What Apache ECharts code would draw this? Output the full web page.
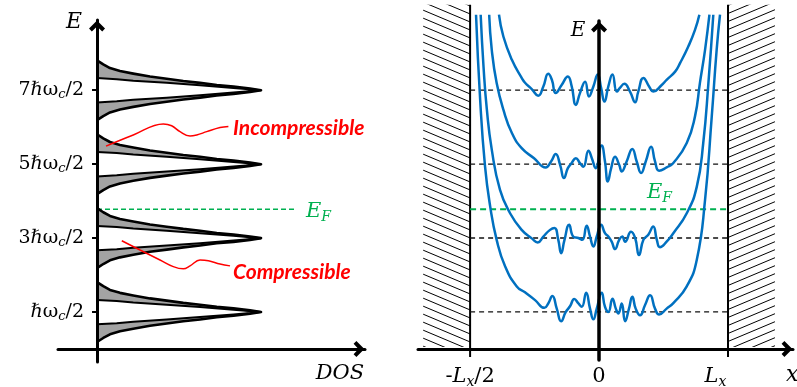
<!DOCTYPE html>
<html><head><meta charset="utf-8">
<script src="https://cdn.jsdelivr.net/npm/echarts@6/dist/echarts.min.js"></script>
<style>html,body{margin:0;padding:0;background:#fff}#c{width:797px;height:387px}</style>
</head><body><div id="c"></div>
<script>
// ---------- data (energies in units of ħω_c/2, x in units of L_x, DOS normalised to peak) ----------
const energyLevels = [1, 3, 5, 7];
const energyTickLabels = ['ℏω_c/2', '3ℏω_c/2', '5ℏω_c/2', '7ℏω_c/2'];
const fermiEnergy = 3.78;

// DOS peak profile (outer and inner boundary, half-width vs DOS)
const peakOuterDos = [0, 0.038, 0.079, 0.140, 0.221, 0.323, 0.425, 0.526, 0.628, 0.730, 0.832, 0.933, 1.0];
const peakOuterHalfWidth = [0.81, 0.70, 0.60, 0.52, 0.45, 0.37, 0.31, 0.25, 0.20, 0.14, 0.10, 0.046, 0];
const peakInnerDos = [0, 0.120, 0.221, 0.425, 0.628, 0.832, 1.0];
const peakInnerHalfWidth = [0.33, 0.30, 0.26, 0.20, 0.135, 0.062, 0];
const leftFermiLineEnd = 1.207;

const incompressibleLeader = [[0.055,5.49],[0.221,5.79],[0.404,6.09],[0.455,6.04],[0.506,5.88],[0.567,5.76],[0.608,5.79],[0.669,5.88],[0.750,5.99],[0.801,6.02]];
const compressibleLeader = [[0.151,2.93],[0.262,2.68],[0.384,2.41],[0.465,2.23],[0.526,2.17],[0.567,2.25],[0.628,2.41],[0.679,2.39],[0.750,2.30],[0.811,2.25]];

// right panel: Landau-level energy vs position
const xTickValues = [-0.5, 0, 0.5];
const xTickLabels = ['-L_x/2', '0', 'L_x'];
const wallX = [-0.5, 0.5];

const band1 = [[-0.477,9.04],[-0.461,6.74],[-0.442,4.93],[-0.422,3.85],[-0.397,2.95],[-0.364,2.23],[-0.319,1.69],[-0.287,1.53],[-0.248,1.32],[-0.212,1.11],[-0.197,1.23],[-0.181,1.43],[-0.164,1.09],[-0.147,0.75],[-0.129,1.00],[-0.112,1.16],[-0.096,1.35],[-0.080,1.23],[-0.067,1.14],[-0.050,1.52],[-0.035,1.09],[-0.022,0.80],[-0.009,1.09],[0.010,1.52],[0.023,1.14],[0.036,1.00],[0.052,1.36],[0.065,1.09],[0.075,0.96],[0.088,1.23],[0.101,0.75],[0.116,1.09],[0.129,1.41],[0.142,1.09],[0.159,0.91],[0.178,1.18],[0.198,1.45],[0.217,1.09],[0.233,0.93],[0.262,1.09],[0.288,1.24],[0.340,1.69],[0.379,2.41],[0.411,4.03],[0.437,6.29],[0.456,8.09],[0.469,9.04]];
const band3 = [[-0.459,9.04],[-0.448,7.64],[-0.435,6.47],[-0.416,5.39],[-0.384,4.30],[-0.345,3.67],[-0.300,3.22],[-0.261,2.99],[-0.238,2.88],[-0.216,3.04],[-0.190,3.22],[-0.173,3.27],[-0.158,2.95],[-0.147,2.59],[-0.134,2.95],[-0.116,3.36],[-0.100,3.04],[-0.080,3.00],[-0.065,2.95],[-0.048,3.33],[-0.035,3.04],[-0.022,2.77],[-0.009,3.04],[0.008,3.36],[0.023,3.13],[0.036,3.04],[0.049,2.90],[0.062,2.70],[0.078,2.95],[0.090,3.04],[0.101,2.90],[0.124,3.17],[0.140,3.00],[0.155,2.54],[0.172,2.95],[0.191,3.09],[0.210,3.31],[0.224,2.95],[0.236,2.75],[0.262,2.90],[0.288,3.13],[0.340,3.67],[0.379,4.39],[0.404,5.57],[0.424,7.19],[0.443,9.04]];
const band5 = [[-0.426,9.04],[-0.416,8.09],[-0.397,7.19],[-0.371,6.47],[-0.338,5.84],[-0.300,5.43],[-0.252,5.16],[-0.207,4.91],[-0.186,5.07],[-0.168,5.27],[-0.151,4.98],[-0.136,4.62],[-0.121,4.89],[-0.106,5.03],[-0.090,5.16],[-0.074,5.03],[-0.061,4.93],[-0.041,5.36],[-0.028,5.16],[-0.013,4.89],[0.010,5.50],[0.023,5.07],[0.034,4.53],[0.047,4.89],[0.062,5.20],[0.078,4.98],[0.088,4.80],[0.107,5.07],[0.129,5.41],[0.146,5.07],[0.163,4.76],[0.181,5.07],[0.202,5.47],[0.217,5.07],[0.233,4.82],[0.262,4.91],[0.288,5.03],[0.340,5.57],[0.372,6.29],[0.391,7.19],[0.411,8.09],[0.428,9.04]];
const band7 = [[-0.388,9.04],[-0.371,8.45],[-0.338,7.82],[-0.300,7.33],[-0.287,7.20],[-0.261,7.03],[-0.236,6.85],[-0.216,7.10],[-0.197,7.44],[-0.183,7.28],[-0.168,6.92],[-0.145,7.14],[-0.121,7.37],[-0.106,7.10],[-0.090,6.60],[-0.074,6.92],[-0.054,7.23],[-0.039,6.83],[-0.022,7.10],[-0.005,7.42],[0.008,7.06],[0.021,6.69],[0.036,7.10],[0.052,7.42],[0.069,6.96],[0.081,7.06],[0.098,7.17],[0.120,6.96],[0.140,6.67],[0.152,6.96],[0.172,7.33],[0.194,7.10],[0.210,6.96],[0.243,7.14],[0.262,7.28],[0.295,7.50],[0.314,7.73],[0.346,8.18],[0.372,8.63],[0.389,9.04]];
const bands = [band1, band3, band5, band7];

// ---------- styling / layout ----------
const SERIF = '"DejaVu Serif"';
const BLUE = '#0070C0', GREEN = '#00B050', RED = '#FF0000';
const ARROW = 'path://M10,0 L20,10 L16.5,13.5 L10,7.5 L3.5,13.5 L0,10 Z';
const wallTop = 9.31, wallBottom = -0.22, hatchTop = 9.31, hatchBottom = 0.05, hatchWidth = 0.182;

function mathRich(s) {
  let out = '';
  for (let i = 0; i < s.length; i++) {
    const ch = s[i];
    if (ch === '_') { out += '{sub|' + s[i + 1] + '}'; i++; }
    else if (/[A-Za-z]/.test(ch)) out += '{it|' + ch + '}';
    else out += '{rm|' + ch + '}';
  }
  return out;
}
function richSet(size, subSize, color, lh) {
  return {
    rm: { fontFamily: SERIF, fontSize: size, color: color, fill: color, lineHeight: lh },
    it: { fontFamily: SERIF, fontSize: size, fontStyle: 'italic', color: color, fill: color, lineHeight: lh },
    sub: { fontFamily: SERIF, fontSize: subSize, fontStyle: 'italic', color: color, fill: color, padding: [Math.round(subSize * 0.7), 0, 0, 0] },
    pad: { width: 25, fontSize: size, lineHeight: lh }
  };
}
function hatchPattern(dir) {
  const c = document.createElement('canvas');
  c.width = 38; c.height = 8;
  const g = c.getContext('2d');
  g.strokeStyle = '#000'; g.lineWidth = 1;
  for (let k = -3; k <= 3; k++) {
    g.beginPath();
    if (dir > 0) { g.moveTo(0, 8 * k); g.lineTo(38, 8 * k + 16); }
    else { g.moveTo(0, 8 * k + 16); g.lineTo(38, 8 * k); }
    g.stroke();
  }
  return { image: c, repeat: 'repeat' };
}
const hatchFills = [hatchPattern(1), hatchPattern(-1)];

const axisLineStyle = (w) => ({
  onZero: true, lineStyle: { color: '#000', width: w },
  symbol: ['none', ARROW], symbolSize: [16, 12], symbolOffset: [0, -6]
});

const chart = echarts.init(document.getElementById('c'), null, { renderer: 'canvas' });

const series = [];
// hatched walls
series.push({
  type: 'custom', xAxisIndex: 1, yAxisIndex: 1, clip: false, silent: true, z: 1,
  data: wallX.map((w, i) => [i === 0 ? w - hatchWidth : w, i === 0 ? w : w + hatchWidth]),
  renderItem: (params, api) => {
    const p0 = api.coord([api.value(0), hatchTop]);
    const p1 = api.coord([api.value(1), hatchBottom]);
    return { type: 'rect', shape: { x: p0[0], y: p0[1], width: p1[0] - p0[0], height: p1[1] - p0[1] },
      style: { fill: hatchFills[params.dataIndex], stroke: null } };
  }
});
wallX.forEach(w => series.push({
  type: 'line', xAxisIndex: 1, yAxisIndex: 1, clip: false, silent: true, symbol: 'none', z: 2,
  data: [[w, wallTop], [w, wallBottom]], lineStyle: { color: '#000', width: 2 }
}));
energyLevels.forEach(e => series.push({
  type: 'line', xAxisIndex: 1, yAxisIndex: 1, symbol: 'none', silent: true, z: 2,
  data: [[wallX[0], e], [wallX[1], e]], lineStyle: { color: '#111', width: 1.3, type: [5, 4] }
}));
series.push({
  type: 'line', xAxisIndex: 1, yAxisIndex: 1, symbol: 'none', silent: true, z: 2,
  data: [[wallX[0], fermiEnergy], [wallX[1], fermiEnergy]], lineStyle: { color: GREEN, width: 2, type: [6, 4] }
});
bands.forEach(b => series.push({
  type: 'line', xAxisIndex: 1, yAxisIndex: 1, symbol: 'none', silent: true, clip: false, z: 3,
  smooth: 0.5, data: b, lineStyle: { color: BLUE, width: 2.5 }
}));
// DOS peaks
series.push({
  type: 'custom', xAxisIndex: 0, yAxisIndex: 0, clip: false, silent: true, z: 3,
  data: energyLevels.map(e => [0, e]),
  renderItem: (params, api) => {
    const L = api.value(1);
    const oT = peakOuterDos.map((d, i) => api.coord([d, L + peakOuterHalfWidth[i]]));
    const oB = peakOuterDos.map((d, i) => api.coord([d, L - peakOuterHalfWidth[i]]));
    const iT = peakInnerDos.map((d, i) => api.coord([d, L + peakInnerHalfWidth[i]]));
    const iB = peakInnerDos.map((d, i) => api.coord([d, L - peakInnerHalfWidth[i]]));
    return { type: 'group', children: [
      { type: 'polygon', shape: { points: oT.concat(iT.slice().reverse()) }, style: { fill: '#a3a3a3', stroke: null } },
      { type: 'polygon', shape: { points: oB.concat(iB.slice().reverse()) }, style: { fill: '#a3a3a3', stroke: null } },
      { type: 'polyline', shape: { points: iT.concat(iB.slice(0, -1).reverse()) }, style: { stroke: '#000', lineWidth: 2, fill: null } },
      { type: 'polyline', shape: { points: oT.concat(oB.slice(0, -1).reverse()) }, style: { stroke: '#000', lineWidth: 2.6, fill: null, lineJoin: 'round' } }
    ] };
  }
});
series.push({
  type: 'line', xAxisIndex: 0, yAxisIndex: 0, symbol: 'none', silent: true, z: 2,
  data: [[0, fermiEnergy], [leftFermiLineEnd, fermiEnergy]], lineStyle: { color: GREEN, width: 1.6, type: [5, 3] }
});
[incompressibleLeader, compressibleLeader].forEach(d => series.push({
  type: 'line', xAxisIndex: 0, yAxisIndex: 0, symbol: 'none', silent: true, z: 4,
  smooth: 0.4, data: d, lineStyle: { color: RED, width: 1.5 }
}));

const yRich = richSet(19, 13, '#000', 24);
const xRich = richSet(21, 14, '#000', 26);

chart.setOption({
  animation: false,
  grid: [
    { left: 58, top: 20, width: 307, height: 342, outerBoundsMode: 'none', containLabel: false },
    { left: 418, top: 21, width: 375, height: 339, outerBoundsMode: 'none', containLabel: false }
  ],
  xAxis: [
    { gridIndex: 0, type: 'value', min: -0.238, max: 1.634, axisLine: axisLineStyle(3),
      axisTick: { show: false }, axisLabel: { show: false }, splitLine: { show: false }, z: 5 },
    { gridIndex: 1, type: 'value', min: -0.702, max: 0.752, axisLine: axisLineStyle(3),
      axisTick: { show: false }, splitLine: { show: false }, z: 5,
      axisLabel: { customValues: xTickValues, margin: 4, rich: xRich,
        formatter: v => { const i = xTickValues.indexOf(v); const s = mathRich(xTickLabels[i]); return i === 2 ? s + '{pad| }' : s; } } }
  ],
  yAxis: [
    { gridIndex: 0, type: 'value', min: -0.35, max: 8.9, axisLine: axisLineStyle(3), splitLine: { show: false }, z: 5,
      axisTick: { customValues: energyLevels, length: 5, lineStyle: { color: '#000', width: 2 } },
      axisLabel: { customValues: energyLevels, margin: -26, rich: yRich,
        formatter: v => mathRich(energyTickLabels[energyLevels.indexOf(v)]) } },
    { gridIndex: 1, type: 'value', min: -0.3, max: 8.87, axisLine: axisLineStyle(3.5), splitLine: { show: false }, z: 5,
      axisTick: { show: false }, axisLabel: { show: false } }
  ],
  graphic: [
    { type: 'text', x: 74, y: 22, silent: true, style: { text: 'E', font: 'italic 22px ' + SERIF, fill: '#000', align: 'center', verticalAlign: 'middle' } },
    { type: 'text', x: 340, y: 374, silent: true, style: { text: 'DOS', font: 'italic 21px ' + SERIF, fill: '#000', align: 'center', verticalAlign: 'middle' } },
    { type: 'text', x: 306, y: 212, silent: true, style: { text: mathRich('E_F'), rich: richSet(21, 14, GREEN, 24), align: 'left', verticalAlign: 'middle' } },
    { type: 'text', x: 647, y: 193, silent: true, style: { text: mathRich('E_F'), rich: richSet(21, 14, GREEN, 24), align: 'left', verticalAlign: 'middle' } },
    { type: 'text', x: 578, y: 31, silent: true, style: { text: 'E', font: 'italic 20px ' + SERIF, fill: '#000', align: 'center', verticalAlign: 'middle' } },
    { type: 'text', x: 786, y: 375, silent: true, style: { text: 'x', font: 'italic 22px ' + SERIF, fill: '#000', align: 'left', verticalAlign: 'middle' } },
    { type: 'text', x: 233, y: 128, silent: true, style: { text: 'Incompressible', font: 'italic bold 21px Lato', fill: RED, align: 'left', verticalAlign: 'middle' } },
    { type: 'text', x: 233, y: 272, silent: true, style: { text: 'Compressible', font: 'italic bold 21px Lato', fill: RED, align: 'left', verticalAlign: 'middle' } }
  ],
  series: series
});
</script></body></html>
